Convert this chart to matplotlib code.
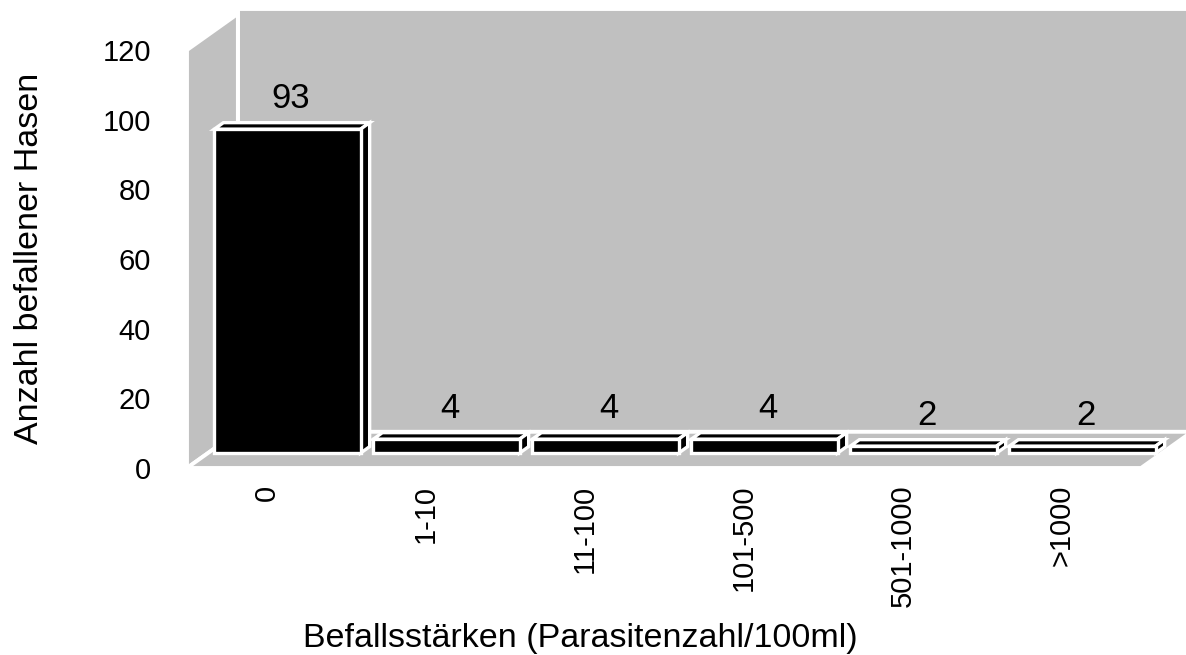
import matplotlib.pyplot as plt
from matplotlib.patches import Polygon

plt.rcParams['font.family'] = ['Liberation Sans', 'DejaVu Sans']

categories = ['0', '1-10', '11-100', '101-500', '501-1000', '>1000']
counts = [93, 4, 4, 4, 2, 2]
yticks = [0, 20, 40, 60, 80, 100, 120]

GRAY = '#C0C0C0'
# depth projection (in data units): one full depth step
DX = 0.32
DY = 10.4


def proj(x, y, d):
    return (x + d * DX, y + d * DY)


def face(ax, pts, color, lw=2.4, z=1):
    poly = Polygon([proj(*p) for p in pts], closed=True, facecolor=color,
                   edgecolor='white', linewidth=lw, joinstyle='miter',
                   clip_on=False, zorder=z)
    ax.add_patch(poly)


def main():
    W, H = 1186, 655
    fig = plt.figure(figsize=(W / 100, H / 100), dpi=100)
    ax = fig.add_axes([187 / W, 1 - 468 / H, 954 / W, 418 / H])
    n = len(categories)
    ax.set_xlim(0, n)
    ax.set_ylim(0, 120)
    ax.set_frame_on(False)

    # walls and floor
    top = 121.5
    face(ax, [(0, 0, 1), (n, 0, 1), (n, top, 1), (0, top, 1)], GRAY, lw=2.8)
    face(ax, [(0, 0, 0), (0, 0, 1), (0, 120, 1), (0, 120, 0)], GRAY, lw=2.8)
    face(ax, [(0, 0, 0), (n, 0, 0), (n, 0, 1), (0, 0, 1)], GRAY, lw=2.8)

    # bars
    d0, d1 = 0.41, 0.59
    width = 0.92
    for i, v in enumerate(counts):
        x0 = i + (1 - width) / 2
        x1 = x0 + width
        face(ax, [(x0, v, d0), (x1, v, d0), (x1, v, d1), (x0, v, d1)], 'black', z=3)
        face(ax, [(x1, 0, d0), (x1, 0, d1), (x1, v, d1), (x1, v, d0)], 'black', z=3)
        face(ax, [(x0, 0, d0), (x1, 0, d0), (x1, v, d0), (x0, v, d0)], 'black', z=3)
        lx, ly = proj(i + 0.5, v, 0.5)
        ax.annotate(str(v), (lx, ly), xytext=(-1, 13), textcoords='offset points',
                    ha='center', va='baseline', fontsize=25, zorder=5,
                    annotation_clip=False)

    ax.set_yticks(yticks)
    ax.set_yticklabels([str(t) for t in yticks], fontsize=21)
    ax.set_xticks([i + 0.5 for i in range(n)])
    ax.set_xticklabels(categories, rotation=90, fontsize=21)
    ax.tick_params(axis='y', length=0, pad=26)
    ax.tick_params(axis='x', length=0, pad=12)

    fig.text(580 / W, 1 - 638 / H, 'Befallsstärken (Parasitenzahl/100ml)',
             ha='center', va='center', fontsize=24.5)
    fig.text(30 / W, 1 - 258 / H, 'Anzahl befallener Hasen', rotation=90,
             ha='center', va='center', fontsize=24.5)

    fig.savefig('out.png', dpi=100)


if __name__ == "__main__":
    main()
